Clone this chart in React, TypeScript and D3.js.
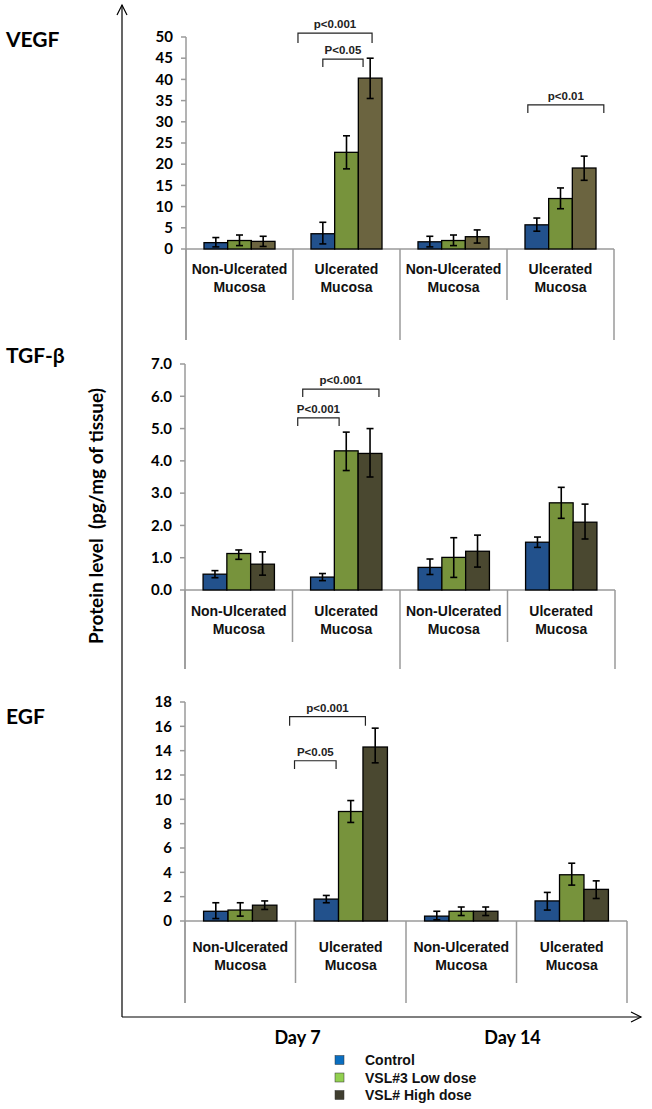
import React from "react";
import { scaleBand, scaleLinear, range, format } from "d3";

// Datos
const categories = ["Non-Ulcerated Mucosa", "Ulcerated Mucosa", "Non-Ulcerated Mucosa", "Ulcerated Mucosa"];
const seriesNames = ["Control", "VSL#3 Low dose", "VSL# High dose"];
const days = ["Day 7", "Day 14"];

const vegfValues = [[1.5, 2.0, 1.8], [3.6, 22.8, 40.3], [1.7, 2.0, 2.9], [5.7, 11.9, 19.1]];
const vegfLow = [[0.5, 0.8, 0.6], [1.2, 18.9, 35.5], [0.5, 0.8, 1.4], [4.2, 9.5, 16.2]];
const vegfHigh = [[2.7, 3.3, 3.0], [6.3, 26.7, 45.0], [3.0, 3.3, 4.5], [7.3, 14.4, 21.9]];

const tgfValues = [[0.49, 1.13, 0.8], [0.4, 4.31, 4.23], [0.7, 1.01, 1.2], [1.48, 2.7, 2.1]];
const tgfLow = [[0.38, 0.95, 0.46], [0.29, 3.7, 3.5], [0.48, 0.39, 0.71], [1.32, 2.22, 1.58]];
const tgfHigh = [[0.6, 1.24, 1.18], [0.51, 4.89, 5.0], [0.96, 1.62, 1.7], [1.64, 3.18, 2.66]];

const egfValues = [[0.8, 0.9, 1.3], [1.8, 9.0, 14.3], [0.4, 0.8, 0.8], [1.65, 3.8, 2.6]];
const egfLow = [[0.2, 0.4, 0.95], [1.5, 8.1, 13.0], [0.1, 0.45, 0.45], [0.9, 2.95, 1.85]];
const egfHigh = [[1.5, 1.5, 1.65], [2.1, 9.9, 15.85], [0.8, 1.15, 1.15], [2.35, 4.75, 3.3]];

// Corchetes de significación: grupo, desde/hasta (en anchos de barra), altura, pata
const vegfBrackets = [
  { group: 1, from: -0.55, to: 2.58, top: 50.9, leg: 48.6, label: "p<0.001" },
  { group: 1, from: 0.5, to: 2.2, top: 44.8, leg: 42.9, label: "P<0.05" },
  { group: 3, from: 0.12, to: 3.33, top: 34, leg: 32.1, label: "p<0.01" },
];
const tgfBrackets = [
  { group: 1, from: -0.33, to: 2.875, top: 6.22, leg: 5.98, label: "p<0.001" },
  { group: 1, from: -0.54, to: 1.2, top: 5.33, leg: 5.08, label: "P<0.001" },
];
const egfBrackets = [
  { group: 1, from: -1.0, to: 2.1, top: 16.8, leg: 16.05, label: "p<0.001" },
  { group: 1, from: -0.8, to: 0.9, top: 13.17, leg: 12.5, label: "P<0.05" },
];

const barColors = ["#22518C", "#77933C", "#6B6440"];
const darkDeep = "#4A4830";
const legendColors = ["#0A6EC0", "#92D050", "#403E30"];
const gray = "#9A9A9A";

interface PanelProps {
  title: string;
  titleY: number;
  values: number[][];
  low: number[][];
  high: number[][];
  brackets: { group: number; from: number; to: number; top: number; leg: number; label: string }[];
  yMax: number;
  yStep: number;
  fmt: string;
  top: number;
  bottom: number;
  left: number;
  right: number;
  shortEnd: number;
  longEnd: number;
  labelY: number;
  dark: string;
}

const Panel: React.FC<PanelProps> = (p) => {
  const y = scaleLinear().domain([0, p.yMax]).range([p.bottom, p.top]);
  const x = scaleBand<number>().domain(range(categories.length)).range([p.left, p.right]).paddingInner(0);
  const inner = scaleBand<number>().domain(range(3)).range([0, x.bandwidth()]).paddingInner(0).paddingOuter(0.76);
  const bw = inner.bandwidth();
  const ticks = range(0, p.yMax + p.yStep / 2, p.yStep);
  const f = format(p.fmt);
  const colors = [barColors[0], barColors[1], p.dark];

  return (
    <g>
      <text x={6} y={p.titleY} style={{ fontFamily: "Lato", fontWeight: 700, fontSize: 21 }}>
        {p.title}
      </text>
      {/* Eje Y */}
      <line x1={p.left} x2={p.left} y1={p.top} y2={p.longEnd} stroke={gray} strokeWidth={1.5} />
      {ticks.map((t) => (
        <g key={t}>
          <line x1={p.left - 5} x2={p.left} y1={y(t)} y2={y(t)} stroke={gray} strokeWidth={1.5} />
          <text
            x={p.left - 13}
            y={y(t)}
            dy="0.35em"
            textAnchor="end"
            style={{ fontFamily: "Lato", fontWeight: 700, fontSize: 15 }}
          >
            {f(t)}
          </text>
        </g>
      ))}
      {/* Eje X con divisores */}
      <line x1={p.left} x2={p.right} y1={p.bottom} y2={p.bottom} stroke={gray} strokeWidth={1.5} />
      {range(categories.length + 1).map((i) => {
        const xx = i < categories.length ? x(i)! : p.right;
        return (
          <line
            key={i}
            x1={xx}
            x2={xx}
            y1={p.bottom}
            y2={i % 2 === 0 ? p.longEnd : p.shortEnd}
            stroke={gray}
            strokeWidth={1.5}
          />
        );
      })}
      {categories.map((c, i) => {
        const words = c.split(" ");
        return (
          <text
            key={i}
            x={x(i)! + x.bandwidth() / 2}
            y={p.labelY}
            textAnchor="middle"
            style={{ fontFamily: "Liberation Sans", fontWeight: 700, fontSize: 14 }}
            fill="#111"
          >
            <tspan x={x(i)! + x.bandwidth() / 2}>{words[0]}</tspan>
            <tspan x={x(i)! + x.bandwidth() / 2} dy={18}>
              {words[1]}
            </tspan>
          </text>
        );
      })}
      {/* Barras */}
      {p.values.map((grp, gi) =>
        grp.map((v, si) => {
          const bx = x(gi)! + inner(si)!;
          const cx = bx + bw / 2;
          return (
            <g key={`${gi}-${si}`}>
              <rect
                x={bx}
                y={y(v)}
                width={bw}
                height={y(0) - y(v)}
                fill={colors[si]}
                stroke="#000"
                strokeWidth={1.3}
              />
              <line x1={cx} x2={cx} y1={y(p.low[gi][si])} y2={y(p.high[gi][si])} stroke="#000" strokeWidth={1.6} />
              <line x1={cx - 3.5} x2={cx + 3.5} y1={y(p.low[gi][si])} y2={y(p.low[gi][si])} stroke="#000" strokeWidth={1.6} />
              <line x1={cx - 3.5} x2={cx + 3.5} y1={y(p.high[gi][si])} y2={y(p.high[gi][si])} stroke="#000" strokeWidth={1.6} />
            </g>
          );
        })
      )}
      {/* Corchetes */}
      {p.brackets.map((b, i) => {
        const x0 = x(b.group)! + inner(0)! + b.from * bw;
        const x1 = x(b.group)! + inner(0)! + b.to * bw;
        return (
          <g key={i}>
            <path
              d={`M${x0},${y(b.leg)}V${y(b.top)}H${x1}V${y(b.leg)}`}
              fill="none"
              stroke="#222"
              strokeWidth={1.2}
            />
            <text
              x={(x0 + x1) / 2}
              y={y(b.top) - 5}
              textAnchor="middle"
              style={{ fontFamily: "Liberation Sans", fontWeight: 700, fontSize: 11.5 }}
              fill="#222"
            >
              {b.label}
            </text>
          </g>
        );
      })}
    </g>
  );
};

export default function App() {
  const W = 652;
  const H = 1109;
  const axisX = 122;
  const axisY = 1017;
  const dayX = scaleBand<number>().domain(range(days.length)).range([190, 620]);

  return (
    <svg width={W} height={H} style={{ position: "absolute", left: 0, top: 0, background: "#fff" }}>
      <rect width={W} height={H} fill="#fff" />
      {/* Ejes principales con flechas */}
      <line x1={axisX} x2={axisX} y1={axisY} y2={5} stroke="#000" strokeWidth={1.2} />
      <path d={`M${axisX - 5},15L${axisX},5L${axisX + 5},15`} fill="none" stroke="#000" strokeWidth={1.2} />
      <line x1={axisX} x2={641} y1={axisY} y2={axisY} stroke="#000" strokeWidth={1.2} />
      <path d={`M631,${axisY - 5}L641,${axisY}L631,${axisY + 5}`} fill="none" stroke="#000" strokeWidth={1.2} />

      <text
        transform={`translate(103, 516) rotate(-90)`}
        textAnchor="middle"
        style={{ fontFamily: "Lato", fontWeight: 700, fontSize: 19 }}
        xmlSpace="preserve"
      >
        Protein level  (pg/mg of tissue)
      </text>

      <Panel
        title="VEGF"
        titleY={47}
        values={vegfValues}
        low={vegfLow}
        high={vegfHigh}
        brackets={vegfBrackets}
        yMax={50}
        yStep={5}
        fmt="d"
        top={37}
        bottom={249}
        left={186}
        right={614}
        shortEnd={300}
        longEnd={340}
        labelY={274}
        dark={barColors[2]}
      />
      <Panel
        title="TGF-β"
        titleY={363}
        values={tgfValues}
        low={tgfLow}
        high={tgfHigh}
        brackets={tgfBrackets}
        yMax={7}
        yStep={1}
        fmt=".1f"
        top={364}
        bottom={590}
        left={185}
        right={615}
        shortEnd={642}
        longEnd={669}
        labelY={616}
        dark={darkDeep}
      />
      <Panel
        title="EGF"
        titleY={724}
        values={egfValues}
        low={egfLow}
        high={egfHigh}
        brackets={egfBrackets}
        yMax={18}
        yStep={2}
        fmt="d"
        top={702}
        bottom={921}
        left={185}
        right={627}
        shortEnd={983}
        longEnd={1003}
        labelY={952}
        dark={darkDeep}
      />

      {days.map((d, i) => (
        <text
          key={d}
          x={dayX(i)! + dayX.bandwidth() / 2}
          y={1044}
          textAnchor="middle"
          style={{ fontFamily: "Lato", fontWeight: 700, fontSize: 18 }}
        >
          {d}
        </text>
      ))}

      {/* Leyenda */}
      {seriesNames.map((s, i) => (
        <g key={s} transform={`translate(335, ${1060 + i * 17.5})`}>
          <rect x={0} y={-4.5} width={9} height={9} fill={legendColors[i]} stroke="#333" strokeWidth={0.5} />
          <text
            x={30}
            y={0}
            dy="0.36em"
            style={{ fontFamily: "Liberation Sans", fontWeight: 700, fontSize: 14 }}
            fill="#111"
          >
            {s}
          </text>
        </g>
      ))}
    </svg>
  );
}
